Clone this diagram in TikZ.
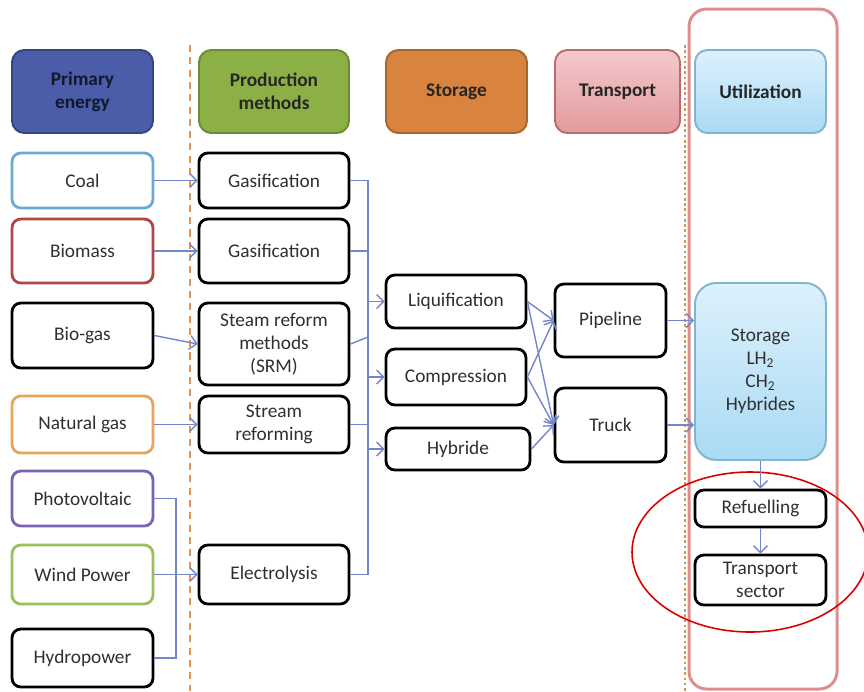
\documentclass[tikz,border=0pt]{standalone}
\usepackage{fontspec}
\setmainfont{Carlito}
\usetikzlibrary{arrows.meta, positioning, calc, shapes.geometric}
\definecolor{primblue}{HTML}{4B5DA8}
\definecolor{primedge}{HTML}{34457F}
\definecolor{prodgreen}{HTML}{8DB046}
\definecolor{prodedge}{HTML}{6C8C33}
\definecolor{storeorange}{HTML}{D8843E}
\definecolor{storeedge}{HTML}{A8662C}
\definecolor{transtop}{HTML}{F4CACC}
\definecolor{transbot}{HTML}{E29A9E}
\definecolor{transedge}{HTML}{B86C70}
\definecolor{utiltop}{HTML}{DDF1FC}
\definecolor{utilbot}{HTML}{A9DAF4}
\definecolor{utiledge}{HTML}{82B4D0}
\definecolor{flowblue}{HTML}{7386CA}
\definecolor{textgray}{HTML}{303030}
\definecolor{framepink}{HTML}{DB8E8E}
\definecolor{sepline}{HTML}{E39452}
\definecolor{coaledge}{HTML}{6BAAD3}
\definecolor{bioedge}{HTML}{B04646}
\definecolor{gasedge}{HTML}{EBA362}
\definecolor{pvedge}{HTML}{7B62B5}
\definecolor{windedge}{HTML}{9CBE5C}

\tikzset{
  box/.style={draw=black, line width=1.6pt, rounded corners=5pt, fill=white, align=center,
    text=textgray, font=\fontsize{11}{13}\selectfont, inner sep=1pt},
  hdr/.style={line width=1.1pt, rounded corners=7pt, align=center, text=black!85,
    font=\fontsize{11}{13}\selectfont\bfseries, minimum height=1.66cm, inner sep=1pt},
  link/.style={draw=flowblue, line width=0.8pt},
  flow/.style={link, -{Straight Barb[length=4pt,width=8pt]}},
}

\begin{document}
\begin{tikzpicture}[x=0.02cm, y=-0.02cm]
  \useasboundingbox (0,0) rectangle (864,691);

  % separators and utilization frame
  \draw[sepline, line width=0.9pt, dash pattern=on 4pt off 3pt] (190,45) -- (190,691);
  \draw[sepline!80!brown, line width=1.2pt, dash pattern=on 1.5pt off 1.5pt] (685,45) -- (685,691);
  \draw[framepink, line width=1.7pt, rounded corners=10pt] (689,9) rectangle (837,689);

  % headers
  \node[hdr, fill=primblue, draw=primedge, text=primedge!35!black, minimum width=2.82cm] (hprim) at (82.5,91.5) {Primary\\energy};
  \node[hdr, fill=prodgreen, draw=prodedge, minimum width=3cm] (hprod) at (274,91.5) {Production\\methods};
  \node[hdr, fill=storeorange, draw=storeedge, minimum width=2.82cm] (hstore) at (456.5,91.5) {Storage};
  \node[hdr, top color=transtop, bottom color=transbot, draw=transedge, minimum width=2.5cm] (htrans) at (617.5,91.5) {Transport};
  \node[hdr, top color=utiltop, bottom color=utilbot, draw=utiledge, minimum width=2.62cm] (hutil) at (760.5,91.5) {Utilization};

  % primary energy
  \node[box, draw=coaledge, minimum width=2.82cm, minimum height=1.1cm] (coal) at (82.5,180.5) {Coal};
  \node[box, draw=bioedge, minimum width=2.82cm, minimum height=1.28cm] (biomass) at (82.5,251) {Biomass};
  \node[box, minimum width=2.82cm, minimum height=1.3cm] (biogas) at (82.5,335.5) {Bio-gas};
  \node[box, draw=gasedge, minimum width=2.82cm, minimum height=1.14cm] (natgas) at (82.5,424.5) {Natural gas};
  \node[box, draw=pvedge, minimum width=2.82cm, minimum height=1.1cm] (pv) at (82.5,498.5) {Photovoltaic};
  \node[box, draw=windedge, minimum width=2.82cm, minimum height=1.18cm] (wind) at (82.5,574.5) {Wind Power};
  \node[box, minimum width=2.82cm, minimum height=1.16cm] (hydro) at (82.5,658) {Hydropower};

  % production methods
  \node[box, minimum width=3cm, minimum height=1.1cm] (gas1) at (274,180.5) {Gasification};
  \node[box, minimum width=3cm, minimum height=1.28cm] (gas2) at (274,251) {Gasification};
  \node[box, minimum width=3cm, minimum height=1.64cm] (srm) at (274,344) {Steam reform\\methods\\(SRM)};
  \node[box, minimum width=3cm, minimum height=1.14cm] (stream) at (274,424.5) {Stream\\reforming};
  \node[box, minimum width=3cm, minimum height=1.18cm] (elec) at (274,574.5) {Electrolysis};

  % storage
  \node[box, minimum width=2.8cm, minimum height=1.06cm] (liq) at (456,301.5) {Liquification};
  \node[box, minimum width=2.8cm, minimum height=1.12cm] (comp) at (456,377) {Compression};
  \node[box, minimum width=2.88cm, minimum height=0.84cm] (hyb) at (458,449) {Hybride};

  % transport
  \node[box, minimum width=2.22cm, minimum height=1.46cm] (pipe) at (610.5,320.5) {Pipeline};
  \node[box, minimum width=2.22cm, minimum height=1.48cm] (truck) at (610.5,425) {Truck};

  % utilization
  \node[box, line width=1.1pt, rounded corners=12pt, top color=utiltop, bottom color=utilbot, draw=utiledge,
    minimum width=2.62cm, minimum height=3.54cm] (stor) at (760.5,371.5) {Storage\\LH\textsubscript{2}\\CH\textsubscript{2}\\Hybrides};
  \node[box, minimum width=2.62cm, minimum height=0.74cm] (refuel) at (760.5,508.5) {Refuelling};
  \node[box, minimum width=2.62cm, minimum height=1cm] (sector) at (760.5,580) {Transport\\sector};

  \draw[red!85!black, line width=0.9pt] (750,552) ellipse [x radius=118, y radius=80];

  % primary -> production
  \draw[flow] (coal.east) -- (gas1.west);
  \draw[flow] (biomass.east) -- (gas2.west);
  \draw[flow] (biogas.east) -- (srm.west);
  \draw[flow] (natgas.east) -- (stream.west);
  \coordinate (rbus) at (176,0);
  \draw[link] (pv.east) -| (pv.east -| rbus) -- (hydro.east -| rbus) -- (hydro.east);
  \draw[flow] (wind.east) -- (elec.west);

  % production -> storage
  \coordinate (pbus) at (368,0);
  \draw[link] (gas1.east) -- (gas1.east -| pbus) -- (elec.east -| pbus) -- (elec.east);
  \draw[link] (gas2.east) -- (gas2.east -| pbus);
  \draw[link] (srm.east) -- ($(srm.east -| pbus)+(0,-7)$);
  \draw[link] (stream.east) -- (stream.east -| pbus);
  \draw[flow] (liq.west -| pbus) -- (liq.west);
  \draw[flow] (comp.west -| pbus) -- (comp.west);
  \draw[flow] (hyb.west -| pbus) -- (hyb.west);

  % storage -> transport
  \draw[flow] (liq.east) -- (pipe.west);
  \draw[flow] (liq.east) -- (truck.west);
  \draw[flow] (comp.east) -- (pipe.west);
  \draw[flow] (comp.east) -- (truck.west);
  \draw[flow] (hyb.east) -- (truck.west);

  % transport -> utilization
  \draw[flow] (pipe.east) -- (pipe.east -| stor.west);
  \draw[flow] (truck.east) -- (truck.east -| stor.west);
  \draw[flow] (stor.south) -- (refuel.north);
  \draw[flow] (refuel.south) -- (sector.north);
\end{tikzpicture}
\end{document}
